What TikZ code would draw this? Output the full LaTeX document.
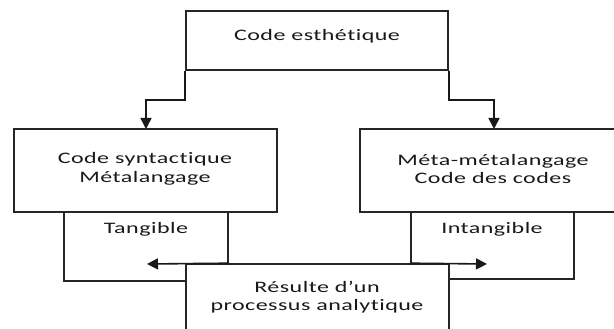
\documentclass[tikz,border=0pt]{standalone}
\usepackage{fontspec}
\setmainfont{Carlito}[FakeStretch=1.5,LetterSpace=3,Ligatures=NoCommon]
\usetikzlibrary{arrows.meta}
\begin{document}
\begin{tikzpicture}[x=1pt,y=-1pt,
  box/.style={draw=black!85, line width=1.6pt, fill=white, inner sep=0pt, minimum width=#1},
  lbl/.style={font=\fontsize{16}{18.5}\selectfont, text=black!90, align=center, inner sep=0pt},
  link/.style={draw=black!90, line width=1.6pt},
  tip/.style={-{Triangle[length=11pt,width=11pt]}}]
\useasboundingbox (0,0) rectangle (614,329);

% side boxes that sit behind the result box
\node[box=164pt, minimum height=69pt] (tang) at (146,246.5) {};
\node[box=163pt, minimum height=67pt] (intang) at (492.5,245.5) {};

% main boxes
\node[box=262pt, minimum height=59pt] (top) at (317,40.5) {};
\node[box=263pt, minimum height=83pt] (left) at (145.5,170.5) {};
\node[box=263pt, minimum height=83pt] (right) at (491.5,170.5) {};
\node[box=263pt, minimum height=90pt] (bot) at (317.5,309) {};

% labels
\node[lbl] (ttop) at (317,36) {Code esthétique};
\node[lbl] (tleft) at (145,169) {Code syntactique\\Métalangage};
\node[lbl] (tright) at (493,169) {Méta-métalangage\\Code des codes};
\node[lbl] (ttang) at (146,229) {Tangible};
\node[lbl] (tintang) at (492,229) {Intangible};
\node[lbl] (tbot) at (317,297) {Résulte d’un\\processus analytique};

% arrows from the top box
\coordinate (la) at (146,129);
\coordinate (ra) at (494,129);
\draw[link,tip] (top.south west) -- ++(0,29) -| (la);
\draw[link,tip] (top.south east) -- ++(0,29) -| (ra);

% arrows out of the result box
\coordinate (lend) at (147,264);
\coordinate (rend) at (487,264);
\draw[link,tip] (tang.east |- bot.north) -- (lend);
\draw[link,tip] (intang.west |- bot.north) -- (rend);
\end{tikzpicture}
\end{document}
